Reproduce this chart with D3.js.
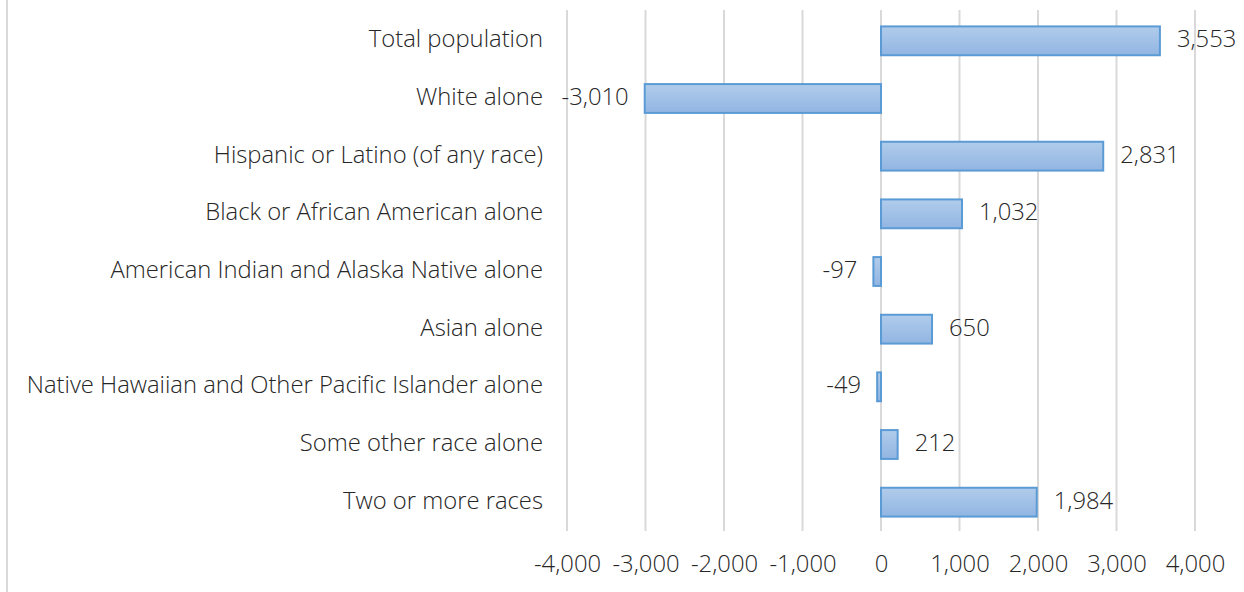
<!DOCTYPE html>
<html>
<head>
<meta charset="utf-8">
<script src="https://cdn.jsdelivr.net/npm/d3@7"></script>
<style>
  html, body { margin: 0; padding: 0; background: #fff; }
  svg text { font-family: "Open Sans", Lato, sans-serif; fill: #262626; font-size: 23.8px; font-weight: 350; }
</style>
</head>
<body>
<svg id="chart" width="1244" height="592"></svg>
<script>
// Population change by race and Hispanic origin
const categories = [
  "Total population",
  "White alone",
  "Hispanic or Latino (of any race)",
  "Black or African American alone",
  "American Indian and Alaska Native alone",
  "Asian alone",
  "Native Hawaiian and Other Pacific Islander alone",
  "Some other race alone",
  "Two or more races"
];
const changes = [3553, -3010, 2831, 1032, -97, 650, -49, 212, 1984];
const xTicks = [-4000, -3000, -2000, -1000, 0, 1000, 2000, 3000, 4000];

const svg = d3.select("#chart");
const margin = { top: 12, right: 49, bottom: 61, left: 567 };
const W = 1244, H = 592;

const x = d3.scaleLinear()
  .domain([-4000, 4000])
  .range([margin.left, W - margin.right]);

const y = d3.scaleBand()
  .domain(categories)
  .range([margin.top, H - margin.bottom])
  .paddingInner(0.5)
  .paddingOuter(0.25);

// thousands separator with a plain hyphen for negatives
const fmt = d3.formatLocale({ decimal: ".", thousands: ",", grouping: [3], currency: ["", ""], minus: "-" }).format(",");

// bar gradient
const defs = svg.append("defs");
const grad = defs.append("linearGradient")
  .attr("id", "barFill").attr("x1", 0).attr("y1", 0).attr("x2", 0).attr("y2", 1);
grad.append("stop").attr("offset", "0%").attr("stop-color", "#b1cceb");
grad.append("stop").attr("offset", "100%").attr("stop-color", "#91b5e2");

// left frame edge
svg.append("line")
  .attr("x1", 7).attr("x2", 7).attr("y1", 0).attr("y2", H)
  .attr("stroke", "#d9d9d9").attr("stroke-width", 2);

// vertical gridlines
svg.append("g")
  .selectAll("line")
  .data(xTicks)
  .join("line")
  .attr("x1", d => x(d)).attr("x2", d => x(d))
  .attr("y1", margin.top - 2).attr("y2", H - margin.bottom)
  .attr("stroke", "#d9d9d9").attr("stroke-width", 2);

// x axis tick labels
const xAxis = d3.axisBottom(x).tickValues(xTicks).tickFormat(fmt).tickSize(0).tickPadding(0);
const gx = svg.append("g")
  .attr("transform", `translate(0,${H - margin.bottom})`)
  .call(xAxis);
gx.select(".domain").remove();
gx.attr("font-size", null).attr("font-family", null);
gx.selectAll("text")
  .attr("dy", null)
  .attr("y", 35)
  .attr("dominant-baseline", "middle")
  .attr("fill", "#262626");

// category labels
const yAxis = d3.axisLeft(y).tickSize(0).tickPadding(0);
const gy = svg.append("g")
  .attr("transform", `translate(${margin.left - 24},0)`)
  .call(yAxis);
gy.select(".domain").remove();
gy.attr("font-size", null).attr("font-family", null);
gy.selectAll("text")
  .attr("dy", null)
  .attr("dominant-baseline", "middle")
  .attr("fill", "#262626");

// bars
svg.append("g")
  .selectAll("rect")
  .data(categories)
  .join("rect")
  .attr("x", (d, i) => Math.min(x(0), x(changes[i])))
  .attr("y", d => y(d))
  .attr("width", (d, i) => Math.abs(x(changes[i]) - x(0)))
  .attr("height", y.bandwidth())
  .attr("fill", "url(#barFill)")
  .attr("stroke", "#5b9bd5")
  .attr("stroke-width", 2);

// value labels
svg.append("g")
  .selectAll("text")
  .data(categories)
  .join("text")
  .attr("x", (d, i) => changes[i] >= 0 ? x(changes[i]) + 17 : x(changes[i]) - 16)
  .attr("y", d => y(d) + y.bandwidth() / 2)
  .attr("text-anchor", (d, i) => changes[i] >= 0 ? "start" : "end")
  .attr("dominant-baseline", "middle")
  .text((d, i) => fmt(changes[i]));
</script>
</body>
</html>
